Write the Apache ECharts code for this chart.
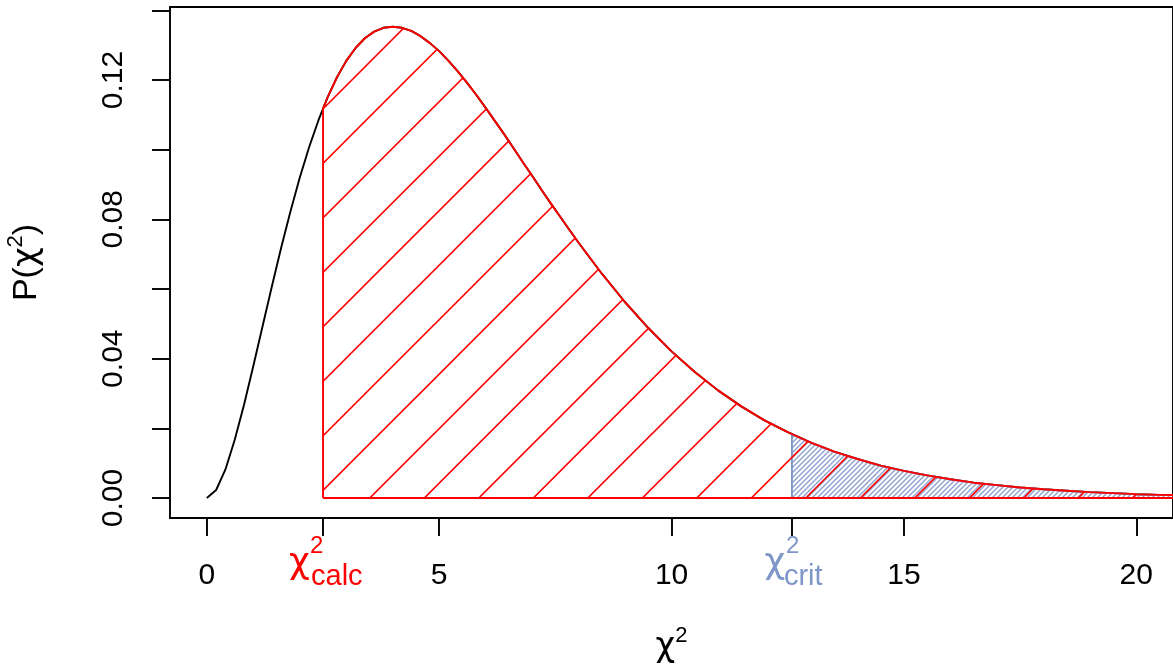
<!DOCTYPE html>
<html>
<head>
<meta charset="utf-8">
<script src="https://cdn.jsdelivr.net/npm/echarts@6/dist/echarts.min.js"></script>
<style>
html,body{margin:0;padding:0;background:#fff;}
#c{width:1173px;height:666px;}
</style>
</head>
<body>
<div id="c"></div>
<script>
// chi-square curve
const xs = [0,0.2,0.4,0.6,0.8,1.0,1.2,1.4,1.6,1.8,2.0,2.2,2.4,2.6,2.8,3.0,3.2,3.4,3.6,3.8,4.0,
  4.2,4.4,4.6,4.8,5.0,5.2,5.4,5.6,5.8,6.0,6.2,6.4,6.6,6.8,7.0,7.2,7.4,7.6,7.8,8.0,
  8.5,9.0,9.5,10,10.5,11,11.5,12,12.5,13,13.5,14,14.5,15,15.5,16,16.5,17,17.5,18,18.5,19,19.5,20,20.5,21];
const ys = [0,0.0023,0.0082,0.0167,0.0268,0.0379,0.0494,0.0608,0.0719,0.0823,0.0920,0.1007,0.1084,0.1151,0.1208,0.1255,0.1292,0.1320,0.1339,0.1350,0.1353,
  0.1350,0.1341,0.1326,0.1306,0.1283,0.1255,0.1225,0.1192,0.1157,0.1120,0.1082,0.1044,0.1004,0.0964,0.0925,0.0885,0.0846,0.0808,0.0770,0.0733,
  0.0644,0.0562,0.0488,0.0421,0.0362,0.0309,0.0263,0.0223,0.0189,0.0159,0.0133,0.0112,0.0093,0.0078,0.0065,0.0054,0.0044,0.0037,0.0030,0.0025,0.0021,0.0017,0.0014,0.0011,0.0009,0.0008];
const chiCalc = 2.5, pCalc = 0.1119;
const chiCrit = 12.59, pCrit = 0.0183;
const xTickLabels = [0,5,10,15,20];
const yTicks = [0,0.02,0.04,0.06,0.08,0.10,0.12,0.14];
const yTickLabels = [0,0.04,0.08,0.12];

const RED = '#ff0000', BLUE = '#7f96c8';
const FONT = 'Liberation Sans, Arial, Helvetica, sans-serif';
const CHIFONT = 'DejaVu Sans, sans-serif';

function makeHatch(size, spacing, offset, color, width) {
  const c = document.createElement('canvas');
  c.width = size; c.height = size;
  const g = c.getContext('2d');
  g.strokeStyle = color; g.lineWidth = width;
  for (let k = -3; offset + k * spacing <= 2 * size + spacing; k++) {
    const cc = offset + k * spacing;
    g.beginPath(); g.moveTo(cc + 3, -3); g.lineTo(-3, cc + 3); g.stroke();
  }
  return {image: c, repeat: 'repeat'};
}

const curve = xs.map((x, i) => [x, ys[i]]);
const redPoly = [[chiCalc, 0], [chiCalc, pCalc]].concat(curve.filter(p => p[0] > chiCalc));
const bluePoly = [[chiCrit, 0], [chiCrit, pCrit]].concat(curve.filter(p => p[0] > chiCrit));

const chart = echarts.init(document.getElementById('c'), null, {renderer: 'canvas'});
chart.setOption({
  animation: false,
  grid: {left: 170, top: 7, right: -4, bottom: 148, show: true, borderColor: '#000', borderWidth: 1.9, backgroundColor: 'transparent'},
  xAxis: {
    type: 'value', min: -0.793, max: 20.79,
    axisLine: {show: false, onZero: false},
    splitLine: {show: false},
    axisTick: {show: true, length: 18, lineStyle: {color: '#000', width: 1.9}, customValues: [0, chiCalc, 5, 10, chiCrit, 15, 20]},
    axisLabel: {customValues: xTickLabels, fontSize: 30, fontFamily: FONT, color: '#000', margin: 43, formatter: v => String(v)}
  },
  yAxis: {
    type: 'value', min: -0.00574, max: 0.14097,
    axisLine: {show: false, onZero: false},
    splitLine: {show: false},
    axisTick: {show: true, length: 18, lineStyle: {color: '#000', width: 1.9}, customValues: yTicks},
    axisLabel: {customValues: yTickLabels, rotate: 90, fontSize: 30, fontFamily: FONT, color: '#000', margin: 41, formatter: v => v.toFixed(2)}
  },
  series: [
    {type: 'line', data: curve, symbol: 'none', lineStyle: {color: '#000', width: 1.9}, z: 2},
    {type: 'line', data: bluePoly, symbol: 'none', lineStyle: {color: BLUE, width: 1.9},
     areaStyle: {color: makeHatch(10, 5, 0, '#8ea2d2', 1.4), opacity: 1}, z: 3},
    {type: 'line', data: redPoly, symbol: 'none', lineStyle: {color: RED, width: 1.9},
     areaStyle: {color: makeHatch(109, 54.5, 50.3, RED, 1.6), opacity: 1}, z: 4},
    {type: 'line', data: [[chiCalc, 0], [xs[xs.length - 1], 0]], symbol: 'none', lineStyle: {color: RED, width: 1.9}, z: 5}
  ]
});

function chiLabel(x, color, sub, chiOff, supOff, subOff) {
  return {type: 'group', children: [
    {type: 'text', x: x + chiOff, y: 564, style: {text: 'χ', fontSize: 36, fontFamily: CHIFONT, fill: color, align: 'center', verticalAlign: 'middle'}},
    {type: 'text', x: x + supOff, y: 546, style: {text: '2', fontSize: 24, fontFamily: FONT, fill: color, align: 'left', verticalAlign: 'middle'}},
    {type: 'text', x: x + subOff, y: 577, style: {text: sub, fontSize: 29, fontFamily: FONT, fill: color, align: 'left', verticalAlign: 'middle'}}
  ]};
}
const pxCalc = chart.convertToPixel({xAxisIndex: 0}, chiCalc);
const pxCrit = chart.convertToPixel({xAxisIndex: 0}, chiCrit);
const gridMid = (chart.convertToPixel({yAxisIndex: 0}, -0.00574) + chart.convertToPixel({yAxisIndex: 0}, 0.14097)) / 2;
const xMid = (chart.convertToPixel({xAxisIndex: 0}, -0.793) + chart.convertToPixel({xAxisIndex: 0}, 20.79)) / 2;
const titleRich = {
  a: {fontSize: 34, fontFamily: FONT, fill: '#000', lineHeight: 44},
  c: {fontSize: 34, fontFamily: CHIFONT, fill: '#000', lineHeight: 44},
  s: {fontSize: 22, fontFamily: FONT, fill: '#000', lineHeight: 22, verticalAlign: 'top'}
};
chart.setOption({
  graphic: [
    chiLabel(pxCalc, RED, 'calc', -23.6, -13, -12),
    chiLabel(pxCrit, BLUE, 'crit', -17, -6, -8),
    {type: 'text', x: xMid, y: 647, style: {text: '{c|χ}{s|2}', rich: titleRich, align: 'center', verticalAlign: 'middle'}},
    {type: 'text', x: 27, y: gridMid, rotation: Math.PI / 2, style: {text: '{a|P(}{c|χ}{s|2}{a|)}', rich: titleRich, align: 'center', verticalAlign: 'middle'}}
  ]
});
</script>
</body>
</html>
